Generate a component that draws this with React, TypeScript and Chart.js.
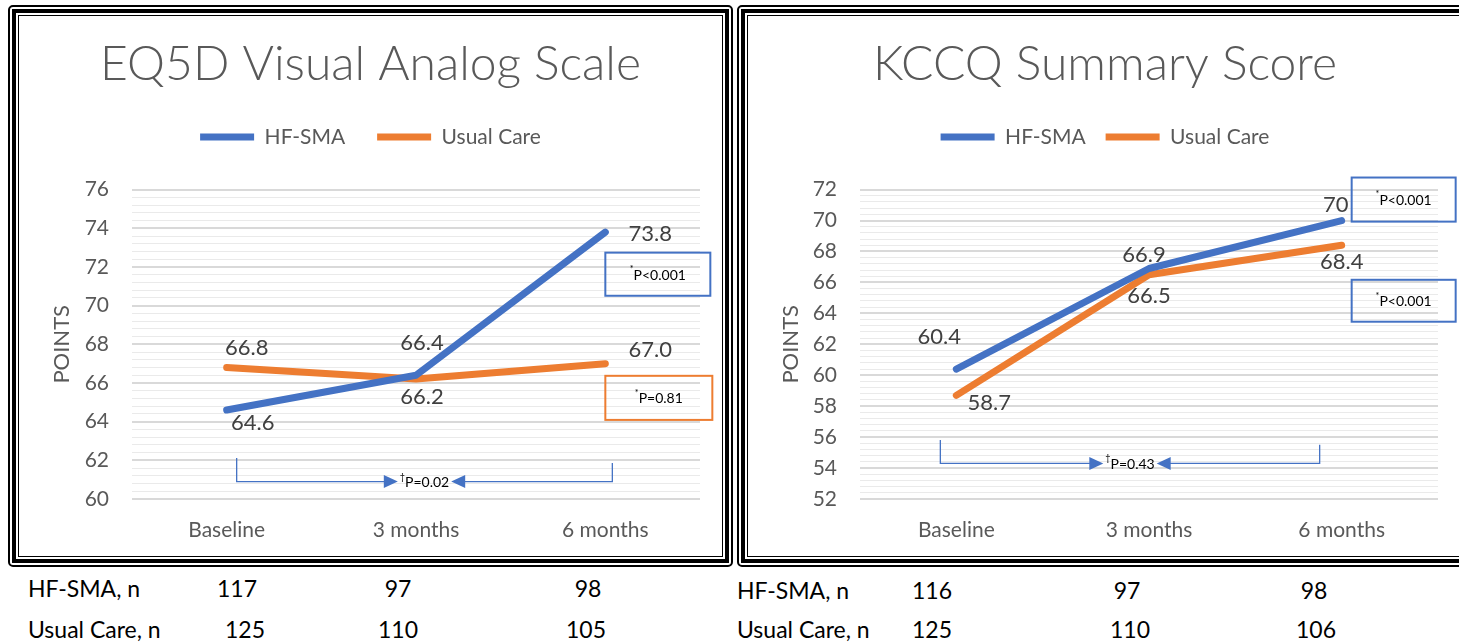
import React, { useEffect, useRef } from 'react';
import { Chart, registerables } from 'chart.js';

Chart.register(...registerables);

// ---------- data ----------
const categories = ['Baseline', '3 months', '6 months'];
const seriesNames = ['HF-SMA', 'Usual Care'];

const eqTitle = 'EQ5D Visual Analog Scale';
const eqHfSma = [64.6, 66.4, 73.8];
const eqUsualCare = [66.8, 66.2, 67.0];
const eqHfLabels = ['64.6', '66.4', '73.8'];
const eqUcLabels = ['66.8', '66.2', '67.0'];
const eqYMin = 60;
const eqYMax = 76;
const eqHfP = 'P<0.001';
const eqUcP = 'P=0.81';
const eqBetweenP = 'P=0.02';
const eqHfN = [117, 97, 98];
const eqUcN = [125, 110, 105];

const kcTitle = 'KCCQ Summary Score';
const kcHfSma = [60.4, 66.9, 70];
const kcUsualCare = [58.7, 66.5, 68.4];
const kcHfLabels = ['60.4', '66.9', '70'];
const kcUcLabels = ['58.7', '66.5', '68.4'];
const kcYMin = 52;
const kcYMax = 72;
const kcHfP = 'P<0.001';
const kcUcP = 'P<0.001';
const kcBetweenP = 'P=0.43';
const kcHfN = [116, 97, 98];
const kcUcN = [125, 110, 106];

const yAxisTitle = 'POINTS';
const nRowLabels = ['HF-SMA, n', 'Usual Care, n'];

// ---------- styles ----------
const BLUE = '#4472C4';
const ORANGE = '#ED7D31';
const GRAY = '#595959';
const FONT = 'Lato, "Open Sans", sans-serif';

const isMajor = (v: number) => Math.abs(v / 2 - Math.round(v / 2)) < 1e-6;

const pointLabelPlugin = {
  id: 'pointLabels',
  afterDatasetsDraw(chart: any, _args: any, opts: any) {
    const { ctx } = chart;
    ctx.save();
    ctx.font = `22px ${FONT}`;
    ctx.fillStyle = '#404040';
    ctx.textAlign = 'center';
    ctx.textBaseline = 'middle';
    (opts.series || []).forEach((s: any, di: number) => {
      const meta = chart.getDatasetMeta(di);
      meta.data.forEach((pt: any, i: number) => {
        ctx.fillText(s.texts[i], pt.x + s.offsets[i][0], pt.y + s.offsets[i][1]);
      });
    });
    ctx.restore();
  },
};

function drawMarkedText(ctx: any, mark: string, text: string, cx: number, cy: number) {
  ctx.font = `14px ${FONT}`;
  const tw = ctx.measureText(text).width;
  ctx.font = `9px ${FONT}`;
  const mw = ctx.measureText(mark).width;
  const total = tw + mw;
  const x0 = cx - total / 2;
  ctx.fillStyle = '#000';
  ctx.textAlign = 'left';
  ctx.textBaseline = 'middle';
  ctx.fillText(mark, x0, cy - 5);
  ctx.font = `14px ${FONT}`;
  ctx.fillText(text, x0 + mw, cy + 1);
  return total;
}

const annotationPlugin = {
  id: 'pAnnotations',
  afterDraw(chart: any, _args: any, opts: any) {
    const { ctx } = chart;
    const xs = chart.scales.x;
    const ys = chart.scales.y;
    ctx.save();
    (opts.boxes || []).forEach((b: any) => {
      const x = xs.getPixelForValue(b.index) + b.dx;
      const y1 = ys.getPixelForValue(b.yTop);
      const y2 = ys.getPixelForValue(b.yBottom);
      ctx.strokeStyle = b.color;
      ctx.lineWidth = 2;
      ctx.strokeRect(x, y1, b.width, y2 - y1);
      drawMarkedText(ctx, '*', b.text, x + b.width / 2, (y1 + y2) / 2);
    });
    const br = opts.bracket;
    if (br) {
      const xl = xs.getPixelForValue(br.leftIndex) + br.leftDx;
      const xr = xs.getPixelForValue(br.rightIndex) + br.rightDx;
      const yl = ys.getPixelForValue(br.yLine);
      const ylt = ys.getPixelForValue(br.yLeftTop);
      const yrt = ys.getPixelForValue(br.yRightTop);
      const mid = (xl + xr) / 2;
      const tw = drawMarkedText(ctx, '\u2020', br.text, mid, yl);
      const aL = mid - tw / 2 - 2; // tip of right-pointing arrow
      const aR = mid + tw / 2 + 2; // tip of left-pointing arrow
      const al = 14;
      const ah = 6.5;
      ctx.strokeStyle = BLUE;
      ctx.fillStyle = BLUE;
      ctx.lineWidth = 1.3;
      ctx.beginPath();
      ctx.moveTo(xl, ylt);
      ctx.lineTo(xl, yl);
      ctx.lineTo(aL - al + 1, yl);
      ctx.moveTo(aR + al - 1, yl);
      ctx.lineTo(xr, yl);
      ctx.lineTo(xr, yrt);
      ctx.stroke();
      ctx.beginPath();
      ctx.moveTo(aL, yl);
      ctx.lineTo(aL - al, yl - ah);
      ctx.lineTo(aL - al, yl + ah);
      ctx.closePath();
      ctx.fill();
      ctx.beginPath();
      ctx.moveTo(aR, yl);
      ctx.lineTo(aR + al, yl - ah);
      ctx.lineTo(aR + al, yl + ah);
      ctx.closePath();
      ctx.fill();
    }
    ctx.restore();
  },
};

function ChartPanel(props: any) {
  const ref = useRef<HTMLCanvasElement>(null);
  useEffect(() => {
    const p = props;
    const chart = new Chart(ref.current as HTMLCanvasElement, {
      type: 'line',
      data: {
        labels: categories,
        datasets: [
          {
            label: seriesNames[0],
            data: p.hf,
            borderColor: BLUE,
            backgroundColor: BLUE,
            borderWidth: 7,
            borderCapStyle: 'round',
            borderJoinStyle: 'round',
            pointRadius: 0,
            tension: 0,
          },
          {
            label: seriesNames[1],
            data: p.uc,
            borderColor: ORANGE,
            backgroundColor: ORANGE,
            borderWidth: 7,
            borderCapStyle: 'round',
            borderJoinStyle: 'round',
            pointRadius: 0,
            tension: 0,
          },
        ],
      },
      options: {
        responsive: false,
        animation: false,
        events: [],
        layout: { padding: { left: p.sidePad, right: p.sidePad, top: 0, bottom: 0 } },
        scales: {
          x: {
            offset: true,
            grid: { display: false, drawTicks: false },
            border: { display: false },
            ticks: { color: GRAY, font: { family: FONT, size: 21 }, padding: 19 },
            afterFit: (s: any) => { s.height = 57; },
          },
          y: {
            min: p.yMin,
            max: p.yMax,
            border: { display: false },
            grid: {
              drawTicks: false,
              color: (c: any) => (isMajor(c.tick.value) ? '#d9d9d9' : '#eaeaea'),
              lineWidth: (c: any) => (isMajor(c.tick.value) ? 2 : 1),
            },
            ticks: {
              stepSize: 0.4,
              autoSkip: false,
              color: GRAY,
              font: { family: FONT, size: 21 },
              padding: 23,
              callback: (v: any) => (isMajor(Number(v)) ? String(Math.round(Number(v))) : ''),
            },
            title: {
              display: true,
              text: yAxisTitle,
              color: GRAY,
              font: { family: FONT, size: 22 },
              padding: { top: 30 - p.sidePad, bottom: 0 },
            },
            afterFit: (s: any) => { s.width = p.chartLeft - p.sidePad; },
          },
        },
        plugins: {
          title: {
            display: true,
            text: p.title,
            color: GRAY,
            font: { family: FONT, size: 48, weight: '300' },
            padding: { top: 20, bottom: p.titleBottom },
          },
          legend: {
            display: true,
            weight: 1800,
            labels: {
              usePointStyle: true,
              pointStyle: 'line',
              pointStyleWidth: 54,
              color: GRAY,
              font: { family: FONT, size: 21 },
              padding: p.legendGap,
            },
          },
          subtitle: {
            display: true,
            text: '',
            weight: 500,
            font: { size: 10, lineHeight: 1 },
            padding: { top: 0, bottom: 22 },
          },
          tooltip: { enabled: false },
          pointLabels: { series: p.pointLabels },
          pAnnotations: { boxes: p.boxes, bracket: p.bracket },
        } as any,
      },
      plugins: [pointLabelPlugin, annotationPlugin],
    } as any);
    return () => chart.destroy();
  }, []);
  return (
    <canvas
      ref={ref}
      width={props.width}
      height={props.height}
      style={{ display: 'block', width: props.width, height: props.height }}
    />
  );
}

function Frame(props: any) {
  return (
    <div
      style={{
        position: 'absolute',
        left: props.left,
        top: props.top,
        width: props.width,
        height: props.height,
        boxSizing: 'border-box',
        border: '2px solid #000',
        borderRadius: 5,
        padding: 2,
        background: '#fff',
      }}
    >
      <div style={{ boxSizing: 'border-box', width: '100%', height: '100%', border: '4px solid #000', padding: 2 }}>
        <div
          style={{
            boxSizing: 'border-box',
            width: '100%',
            height: '100%',
            border: '1px solid #000',
            overflow: 'hidden',
            background: '#fff',
          }}
        >
          {props.children}
        </div>
      </div>
    </div>
  );
}

function NTable(props: any) {
  const txt: any = {
    position: 'absolute',
    fontFamily: FONT,
    fontSize: 23,
    color: '#000',
    whiteSpace: 'nowrap',
    lineHeight: '28px',
  };
  return (
    <>
      {props.rows.map((row: any, ri: number) => (
        <React.Fragment key={ri}>
          <div style={{ ...txt, left: props.labelX, top: row.y - 14 }}>{nRowLabels[ri]}</div>
          {row.values.map((v: number, i: number) => (
            <div
              key={i}
              style={{ ...txt, left: row.xs[i], top: row.y - 14, transform: 'translateX(-50%)' }}
            >
              {v}
            </div>
          ))}
        </React.Fragment>
      ))}
    </>
  );
}

export default function App() {
  return (
    <div
      style={{
        position: 'absolute',
        left: 0,
        top: 0,
        width: 1459,
        height: 644,
        overflow: 'hidden',
        background: '#fff',
      }}
    >
      <Frame left={8} top={5} width={725} height={562}>
        <ChartPanel
          width={703}
          height={540}
          title={eqTitle}
          titleBottom={1}
          hf={eqHfSma}
          uc={eqUsualCare}
          yMin={eqYMin}
          yMax={eqYMax}
          chartLeft={113}
          sidePad={22}
          legendGap={32}
          pointLabels={[
            { texts: eqHfLabels, offsets: [[26, 13], [6, -32], [45, 2]] },
            { texts: eqUcLabels, offsets: [[20, -20], [6, 18], [45, -14]] },
          ]}
          boxes={[
            { index: 2, dx: 0, width: 105, yTop: 72.74, yBottom: 70.51, color: BLUE, text: eqHfP },
            { index: 2, dx: 0, width: 107, yTop: 66.37, yBottom: 64.09, color: ORANGE, text: eqUcP },
          ]}
          bracket={{
            leftIndex: 0, leftDx: 10, rightIndex: 2, rightDx: 7,
            yLine: 60.9, yLeftTop: 62.12, yRightTop: 61.86, text: eqBetweenP,
          }}
        />
      </Frame>
      <Frame left={737} top={5} width={740} height={562}>
        <ChartPanel
          width={714}
          height={540}
          title={kcTitle}
          titleBottom={13}
          hf={kcHfSma}
          uc={kcUsualCare}
          yMin={kcYMin}
          yMax={kcYMax}
          chartLeft={112}
          sidePad={24}
          legendGap={20}
          pointLabels={[
            { texts: kcHfLabels, offsets: [[-17, -32], [-5, -14], [-6, -16]] },
            { texts: kcUcLabels, offsets: [[33, 8], [0, 21], [0, 17]] },
          ]}
          boxes={[
            { index: 2, dx: 10, width: 104, yTop: 72.78, yBottom: 69.93, color: BLUE, text: kcHfP },
            { index: 2, dx: 10, width: 104, yTop: 66.17, yBottom: 63.46, color: BLUE, text: kcUcP },
          ]}
          bracket={{
            leftIndex: 0, leftDx: -16, rightIndex: 2, rightDx: -22,
            yLine: 54.3, yLeftTop: 55.82, yRightTop: 55.5, text: kcBetweenP,
          }}
        />
      </Frame>
      <NTable
        labelX={28}
        rows={[
          { y: 588, values: eqHfN, xs: [237, 398, 588] },
          { y: 629, values: eqUcN, xs: [245, 398, 586] },
        ]}
      />
      <NTable
        labelX={737}
        rows={[
          { y: 590, values: kcHfN, xs: [932, 1127, 1314] },
          { y: 629, values: kcUcN, xs: [932, 1130, 1316] },
        ]}
      />
    </div>
  );
}
